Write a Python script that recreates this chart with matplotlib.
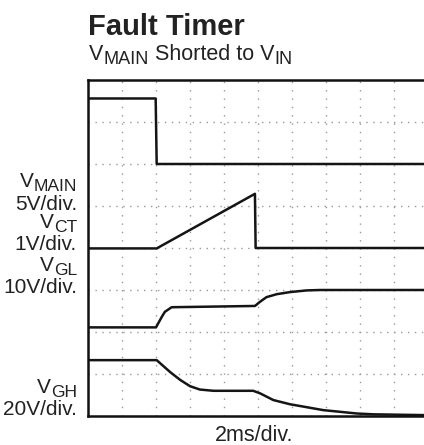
#!/usr/bin/env python3
"""Scope capture: fault timer, VMAIN shorted to VIN."""

import matplotlib
matplotlib.use("Agg")
import matplotlib.pyplot as plt

plt.rcParams["font.family"] = ["Liberation Sans", "DejaVu Sans"]

# time in divisions (2ms/div), voltage in divisions from bottom of screen
t_main = [0.0, 1.99, 2.02, 10.0]
v_main = [7.56, 7.56, 6.0, 6.0]

t_ct = [0.0, 2.02, 4.91, 4.93, 10.0]
v_ct = [3.99, 3.99, 5.29, 4.0, 4.0]

t_gl = [0.0, 2.0, 2.17, 2.26, 2.46, 4.91, 5.06, 5.25, 5.55, 5.94, 6.43, 6.82, 10.0]
v_gl = [2.11, 2.11, 2.36, 2.48, 2.59, 2.62, 2.72, 2.83, 2.90, 2.95, 2.99, 3.0, 3.0]

t_gh = [0.0, 2.02, 2.41, 2.71, 3.0, 3.29, 3.69, 4.86, 5.06, 5.45, 5.94, 6.43,
        6.92, 7.41, 7.9, 8.39, 10.0]
v_gh = [1.33, 1.33, 1.05, 0.86, 0.71, 0.63, 0.60, 0.60, 0.54, 0.38, 0.28, 0.21,
        0.14, 0.10, 0.06, 0.04, 0.02]

# (segments, baseline y in px); segments are (text, is_subscript)
left_labels = [
    ([("V", False), ("MAIN", True)], 187),
    ([("5V/div.", False)], 210),
    ([("V", False), ("CT", True)], 228),
    ([("1V/div.", False)], 250),
    ([("V", False), ("GL", True)], 271),
    ([("10V/div.", False)], 293),
    ([("V", False), ("GH", True)], 393),
    ([("20V/div.", False)], 415),
]
subtitle = [("V", False), ("MAIN", True), (" Shorted to V", False), ("IN", True)]

W, H = 424, 445
INK = "#222222"


def rich_text(fig, x_px, y_px, segments, size, ha="left"):
    """Lay out text with same-line subscripts; x_px, y_px in pixels from top-left."""
    renderer = fig.canvas.get_renderer()
    drawn = []
    cursor = 0.0
    for txt, sub in segments:
        fs = size * 0.84 if sub else size
        drop = size * 0.18 if sub else 0.0
        t = fig.text(0, 0, txt, fontsize=fs, color=INK, va="baseline", ha="left")
        w = t.get_window_extent(renderer).width
        drawn.append((t, cursor, drop))
        cursor += w
    x0 = x_px - cursor if ha == "right" else x_px
    for t, off, drop in drawn:
        t.set_position(((x0 + off) / W, 1 - (y_px + drop * 100 / 72) / H))


def main():
    fig = plt.figure(figsize=(W / 100, H / 100), dpi=100)
    ax = fig.add_axes([88 / W, (H - 416) / H, 340 / W, 336 / H])

    ax.set_xlim(0, 10)
    ax.set_ylim(0, 8)
    ax.set_xticks(range(11))
    ax.set_yticks(range(9))
    ax.tick_params(length=0, labelbottom=False, labelleft=False)
    ax.xaxis.grid(True, color="#999999", linestyle=(0, (1, 5)), linewidth=1)
    ax.yaxis.grid(True, color="#999999", linestyle=(0, (1, 4)), linewidth=1)
    for s in ax.spines.values():
        s.set_linewidth(1.8)
        s.set_color("#111111")

    for t, v in [(t_main, v_main), (t_ct, v_ct), (t_gl, v_gl), (t_gh, v_gh)]:
        ax.plot(t, v, color="#151515", linewidth=1.8)

    fig.text(88 / W, 1 - 35 / H, "Fault Timer", fontsize=21, fontweight="bold",
             ha="left", va="baseline", color=INK)
    rich_text(fig, 89, 60, subtitle, 15.5)

    for segs, y in left_labels:
        rich_text(fig, 77, y, segs, 15, ha="right")

    fig.text(254 / W, 1 - 441 / H, "2ms/div.", fontsize=15.5, ha="center",
             va="baseline", color=INK)

    fig.savefig("out.png", dpi=100)


if __name__ == "__main__":
    main()
